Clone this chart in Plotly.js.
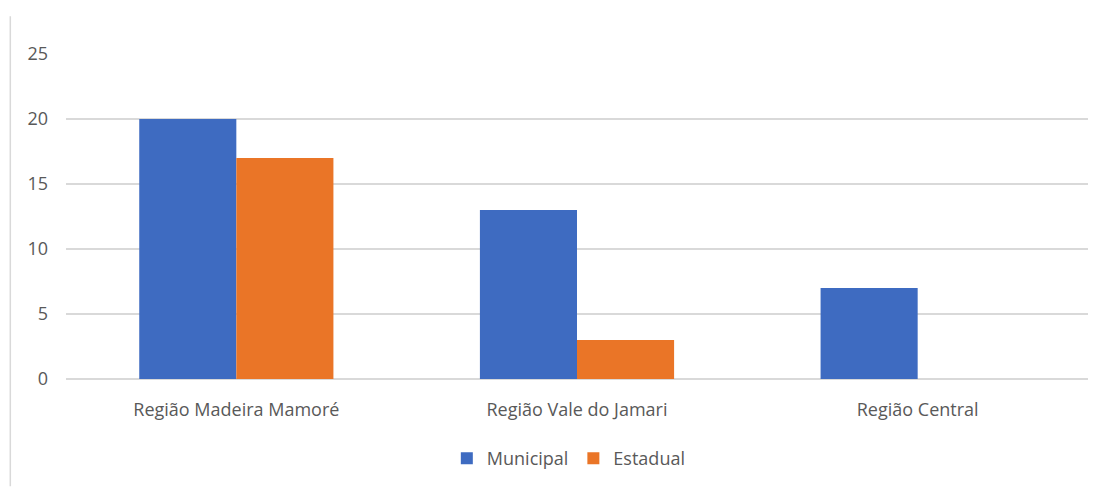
<!DOCTYPE html>
<html><head><meta charset="utf-8">
<script src="https://cdn.plot.ly/plotly-3.0.1.min.js"></script>
<style>body{margin:0;background:#fff}#c{width:1100px;height:489px}</style>
</head><body><div id="c"></div>
<script>
const categories = ["Região Madeira Mamoré", "Região Vale do Jamari", "Região Central"];
const municipal = [20, 13, 7];
const estadual = [17, 3, 0];
const yTicks = [0, 5, 10, 15, 20, 25];

const font = {family: "Open Sans, Liberation Sans, sans-serif", size: 18, color: "#595959"};
const data = [
  {type: "bar", name: "Municipal", x: categories, y: municipal,
   marker: {color: "#3e6bc1", line: {width: 0}}},
  {type: "bar", name: "Estadual", x: categories, y: estadual,
   marker: {color: "#ea7527", line: {width: 0}}}
];
const layout = {
  width: 1100, height: 489,
  margin: {l: 66, r: 12, t: 54, b: 106},
  paper_bgcolor: "#fff", plot_bgcolor: "#fff",
  font: font,
  barmode: "group", bargap: 0.43, bargroupgap: 0,
  showlegend: true,
  legend: {orientation: "h", x: 0.492, xanchor: "center", y: -0.245, yanchor: "middle", font: font, itemwidth: 30, tracegroupgap: 0},
  xaxis: {showgrid: false, zeroline: false, showline: false, ticks: "", tickfont: font, ticklabelstandoff: 18},
  yaxis: {range: [0, 25], tickvals: yTicks, ticktext: yTicks.map(String), showgrid: true,
    gridcolor: "#d9d9d9", gridwidth: 1.5, zeroline: true, zerolinecolor: "#d9d9d9", zerolinewidth: 1.5,
    showline: false, ticks: "", tickfont: font, ticklabelstandoff: 17},
  shapes: [{type: "line", xref: "paper", yref: "paper", x0: -0.0545, x1: -0.0545, y0: 1.116, y1: -0.33,
    line: {color: "#d9d9d9", width: 1.5}}]
};
Plotly.newPlot("c", data, layout, {displayModeBar: false, staticPlot: true});
</script></body></html>
